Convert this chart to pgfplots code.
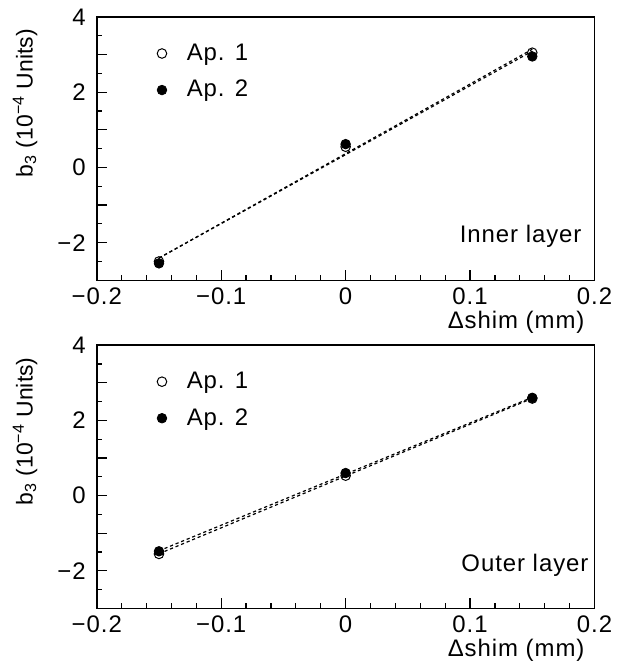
\documentclass[border=0pt]{standalone}
\usepackage{fontspec}
\setmainfont{Liberation Sans}[LetterSpace=4]
\usepackage{pgfplots}
\pgfplotsset{compat=1.18}

\newcommand{\chartfont}{\fontsize{12}{14}\selectfont}

\pgfplotsset{
  shimaxis/.style={
    scale only axis, width=249.5pt, height=132pt,
    xmin=-0.2, xmax=0.2, ymin=-3, ymax=4,
    xtick={-0.2,-0.1,0,0.1,0.2},
    xticklabels={−0.2,−0.1,0,0.1,0.2},
    minor x tick num=4,
    ytick={-3,-2,-1,0,1,2,3,4},
    yticklabels={,−2,,0,,2,,4},
    minor y tick num=1,
    xtick pos=bottom, ytick pos=left,
    tick align=inside,
    major tick length=5pt, minor tick length=2.5pt,
    axis line style={line width=0.75pt},
    every tick/.style={black, line width=0.6pt},
    tick label style={font=\chartfont},
    yticklabel style={xshift=-2pt},
    label style={font=\chartfont},
    xlabel={Δshim (mm)},
    xlabel style={at={(axis description cs:0.994,-0.182)}, anchor=base east},
    ylabel={\addfontfeature{LetterSpace=0}b\textsubscript{3} (10\textsuperscript{−4} Units)},
    ylabel style={at={(axis description cs:-0.144,0.98)}, anchor=east,
      font=\fontsize{11.5}{13}\selectfont},
    legend style={draw=none, fill=none, font=\chartfont,
      at={(axis description cs:0.106,0.93)}, anchor=north west,
      row sep=4.5pt},
    legend cell align=left,
    legend image code/.code={\draw[#1] plot coordinates {(0cm,0cm)};
      \path (-0.1cm,0cm) (0.36cm,0cm);},
    fitline/.style={forget plot, black, line width=0.6pt, dash pattern=on 1.6pt off 1.4pt},
    apone/.style={only marks, mark=o, mark size=2.4pt, mark options={line width=0.5pt, fill=none}},
    aptwo/.style={only marks, mark=*, mark size=2.4pt, mark options={fill=black}},
  }
}

\begin{document}
\begin{tikzpicture}
\begin{axis}[shimaxis]
  \addplot[fitline] coordinates {(-0.15,-2.408) (0.15,3.142)};
  \addplot[fitline] coordinates {(-0.15,-2.410) (0.15,3.090)};
  \addplot[apone] coordinates {(-0.15,-2.50) (0,0.55) (0.15,3.05)};
  \addlegendentry{Ap. 1}
  \addplot[aptwo] coordinates {(-0.15,-2.55) (0,0.62) (0.15,2.95)};
  \addlegendentry{Ap. 2}
  \node[anchor=base east, font=\chartfont, xshift=3.5pt] at (rel axis cs:0.974,0.144) {Inner layer};
\end{axis}

\begin{axis}[shimaxis, at={(0,-164.5pt)}]
  \addplot[fitline] coordinates {(-0.15,-1.545) (0.15,2.585)};
  \addplot[fitline] coordinates {(-0.15,-1.467) (0.15,2.613)};
  \addplot[apone] coordinates {(-0.15,-1.55) (0,0.53) (0.15,2.58)};
  \addlegendentry{Ap. 1}
  \addplot[aptwo] coordinates {(-0.15,-1.48) (0,0.60) (0.15,2.60)};
  \addlegendentry{Ap. 2}
  \node[anchor=base east, font=\chartfont, xshift=3.5pt] at (rel axis cs:0.988,0.141) {Outer layer};
\end{axis}

\path[use as bounding box] (-48.5pt,-193.5pt) rectangle (268.5pt,140.5pt);
\end{tikzpicture}
\end{document}
